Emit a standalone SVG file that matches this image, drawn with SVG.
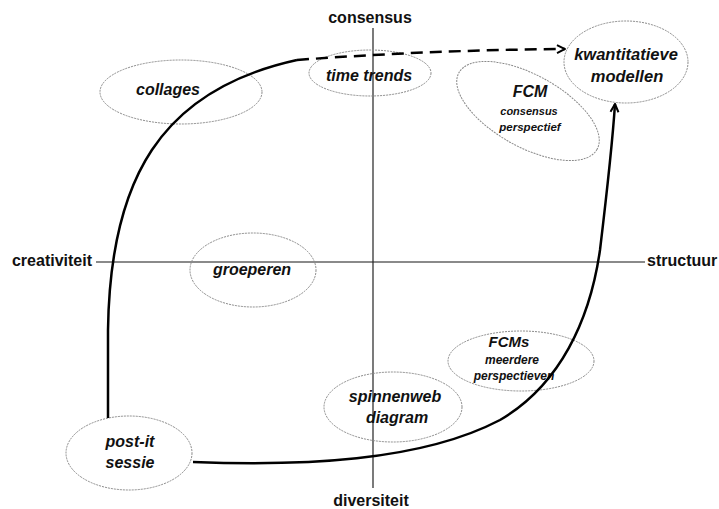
<svg xmlns="http://www.w3.org/2000/svg" width="719" height="509" viewBox="0 0 719 509">
<style>
.ax{font-family:"Liberation Sans",Arial,sans-serif;font-weight:bold;font-size:16px;fill:#111}
.nd{fill:none;stroke:#8a8a8a;stroke-width:1;stroke-dasharray:2 1}
.t{font-family:"Liberation Sans",Arial,sans-serif;font-weight:bold;font-style:italic;fill:#111;text-anchor:middle}
.c{fill:none;stroke:#000;stroke-width:2.5}
</style>
<defs>
<marker id="arr" viewBox="0 0 10 10" refX="9" refY="5" markerWidth="4" markerHeight="4" orient="auto" markerUnits="strokeWidth">
<path d="M1,1 L9,5 L1,9" fill="none" stroke="#000" stroke-width="2"/>
</marker>
</defs>
<rect width="719" height="509" fill="#fff"/>
<g id="axes">
<line x1="96" y1="262" x2="645" y2="262" stroke="#8a8a8a" stroke-width="2"/>
<line x1="373" y1="28" x2="373" y2="488" stroke="#222" stroke-width="1.2"/>
<text class="ax" x="370" y="23" text-anchor="middle">consensus</text>
<text class="ax" x="371" y="506" text-anchor="middle">diversiteit</text>
<text class="ax" x="92" y="266" text-anchor="end">creativiteit</text>
<text class="ax" x="647" y="266">structuur</text>
</g>
<g id="collages"><ellipse class="nd" cx="181" cy="92" rx="81" ry="32"/><text class="t" x="168" y="95" font-size="16">collages</text></g>
<g id="time-trends"><ellipse class="nd" cx="370" cy="73" rx="61" ry="23"/><text class="t" x="369" y="81" font-size="16">time trends</text></g>
<g id="kwantitatieve-modellen"><ellipse class="nd" cx="626" cy="62" rx="62" ry="41"/><text class="t" x="626" y="60" font-size="16.5">kwantitatieve</text><text class="t" x="627" y="82" font-size="16.5">modellen</text></g>
<g id="fcm-consensus"><ellipse class="nd" cx="528" cy="111" rx="79" ry="36" transform="rotate(29 528 111)"/><text class="t" x="530" y="97" font-size="16">FCM</text><text class="t" x="529" y="115" font-size="11">consensus</text><text class="t" x="530" y="131" font-size="11.5">perspectief</text></g>
<g id="groeperen"><ellipse class="nd" cx="253" cy="270" rx="63" ry="37"/><text class="t" x="252" y="275" font-size="16">groeperen</text></g>
<g id="fcms-meerdere"><ellipse class="nd" cx="521" cy="361" rx="73" ry="30"/><text class="t" x="509" y="347" font-size="15">FCMs</text><text class="t" x="512" y="364" font-size="12">meerdere</text><text class="t" x="514" y="380" font-size="12">perspectieven</text></g>
<g id="spinnenweb-diagram"><ellipse class="nd" cx="393" cy="407" rx="69" ry="35"/><text class="t" x="395" y="402" font-size="16">spinnenweb</text><text class="t" x="397" y="423" font-size="16">diagram</text></g>
<g id="post-it-sessie"><ellipse class="nd" cx="129" cy="453" rx="63" ry="37"/><text class="t" x="130" y="447" font-size="16">post-it</text><text class="t" x="130" y="468" font-size="16">sessie</text></g>
<g id="connectors">
<path class="c" d="M108,418 L108,330 C110,180 160,90 297,60"/>
<path class="c" d="M297,60 Q430,50 565,49" stroke-dasharray="12 7" marker-end="url(#arr)"/>
<path class="c" d="M193,462 C300,466 420,462 500,420 C560,385 590,320 600,250 C606,200 612,150 615,104" marker-end="url(#arr)"/>
</g>
</svg>
